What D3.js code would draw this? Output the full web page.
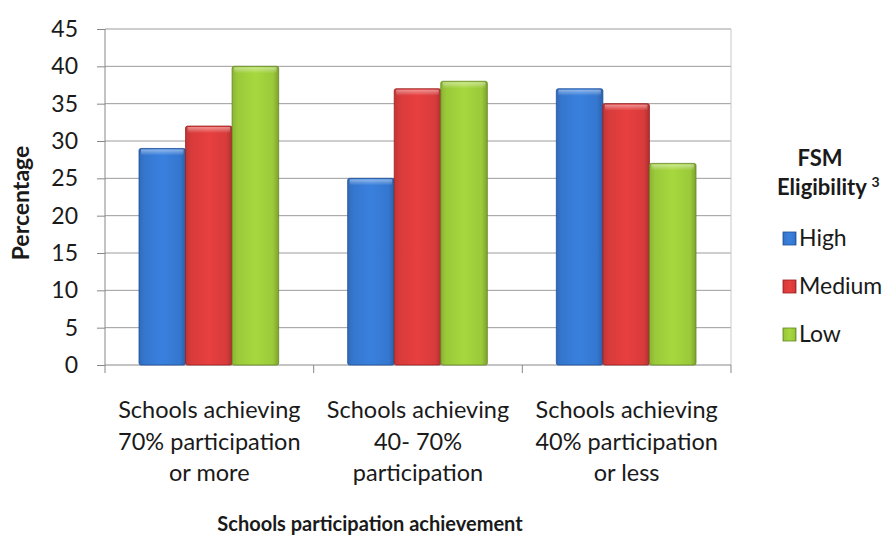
<!DOCTYPE html>
<html><head><meta charset="utf-8">
<script src="https://cdn.jsdelivr.net/npm/d3@7"></script>
<style>body{margin:0;background:#fff}svg{display:block}text{font-family:Lato,"Open Sans",sans-serif;fill:#1a1a1a}</style>
</head><body><svg id="c" width="894" height="536"></svg>
<script>
const categories = [
  ["Schools achieving","70% participation","or more"],
  ["Schools achieving","40- 70%","participation"],
  ["Schools achieving","40% participation","or less"]
];
const seriesNames = ["High","Medium","Low"];
const high = [29, 25, 37];
const medium = [32, 37, 35];
const low = [40, 38, 27];
const yTicks = [0,5,10,15,20,25,30,35,40,45];
const colors = ["#3577cf","#d83b3b","#9bc93a"];
const dark = ["#1f4f99","#9a1f1f","#63861f"];

const svg = d3.select("#c");
const m = {l:105, r:731, t:29, b:365};
const x0 = d3.scaleBand().domain([0,1,2]).range([m.l, m.r]);
const x1 = d3.scaleBand().domain([0,1,2]).range([34, x0.bandwidth()-35]);
const y = d3.scaleLinear().domain([0,45]).range([m.b, m.t]);

const defs = svg.append("defs");
colors.forEach((c,i)=>{
  const g = defs.append("linearGradient").attr("id","g"+i).attr("x1",0).attr("x2",1).attr("y1",0).attr("y2",0);
  g.append("stop").attr("offset","0%").attr("stop-color",d3.color(c).darker(0.3));
  g.append("stop").attr("offset","12%").attr("stop-color",c);
  g.append("stop").attr("offset","50%").attr("stop-color",d3.color(c).brighter(0.2));
  g.append("stop").attr("offset","88%").attr("stop-color",c);
  g.append("stop").attr("offset","100%").attr("stop-color",d3.color(c).darker(0.6));
  const v = defs.append("linearGradient").attr("id","v"+i).attr("x1",0).attr("x2",0).attr("y1",0).attr("y2",1);
  v.append("stop").attr("offset","0%").attr("stop-color","#fff").attr("stop-opacity",0.45);
  v.append("stop").attr("offset","100%").attr("stop-color","#fff").attr("stop-opacity",0);
});

// gridlines
svg.append("g").selectAll("line").data(yTicks.filter(t=>t>0)).join("line")
  .attr("x1",m.l).attr("x2",m.r).attr("y1",d=>y(d)).attr("y2",d=>y(d))
  .attr("stroke","#9c9c9c").attr("stroke-width",1);
svg.append("line").attr("x1",m.r).attr("x2",m.r).attr("y1",m.t).attr("y2",m.b).attr("stroke","#c8c8c8");

// y axis
const ya = svg.append("g").attr("transform",`translate(${m.l},0)`)
  .call(d3.axisLeft(y).tickValues(yTicks).tickSize(8).tickPadding(19).tickSizeOuter(0));
ya.select(".domain").remove();
ya.selectAll(".tick line").attr("stroke","#888");
ya.selectAll("text").attr("font-size",23).attr("fill","#1a1a1a").attr("font-family","Lato");
svg.append("line").attr("x1",m.l).attr("x2",m.l).attr("y1",m.t).attr("y2",m.b+8).attr("stroke","#888");

// x axis
svg.append("line").attr("x1",m.l).attr("x2",m.r).attr("y1",m.b).attr("y2",m.b).attr("stroke","#888");
svg.append("g").selectAll("line").data([1,2,3]).join("line")
  .attr("x1",i=>m.l+i*x0.bandwidth()).attr("x2",i=>m.l+i*x0.bandwidth())
  .attr("y1",m.b).attr("y2",m.b+8).attr("stroke","#888");

// bars
const data = [high, medium, low];
data.forEach((vals,s)=>{
  const g = svg.append("g");
  g.selectAll("rect.b").data(vals).join("rect").attr("class","b")
    .attr("x",(d,i)=>x0(i)+x1(s)).attr("width",x1.bandwidth())
    .attr("y",d=>y(d)).attr("height",d=>y(0)-y(d))
    .attr("fill",`url(#g${s})`).attr("stroke",dark[s]).attr("stroke-width",0.8).attr("rx",2);
  g.selectAll("rect.h").data(vals).join("rect").attr("class","h")
    .attr("x",(d,i)=>x0(i)+x1(s)+2).attr("width",x1.bandwidth()-4)
    .attr("y",d=>y(d)+1).attr("height",6)
    .attr("fill",`url(#v${s})`);
});

// category labels
categories.forEach((lines,i)=>{
  const t = svg.append("text").attr("text-anchor","middle").attr("font-size",23.5);
  lines.forEach((l,j)=>t.append("tspan").attr("x",x0(i)+x0.bandwidth()/2).attr("y",418+j*31.5).text(l));
});

// axis titles
svg.append("text").attr("x",370).attr("y",531).attr("text-anchor","middle")
  .attr("font-size",20).attr("font-weight","bold").text("Schools participation achievement");
svg.append("text").attr("transform","translate(29,203) rotate(-90)").attr("text-anchor","middle")
  .attr("font-size",23).attr("font-weight","bold").text("Percentage");

// legend
svg.append("text").attr("x",820).attr("y",166).attr("text-anchor","middle").attr("font-size",22).attr("font-weight","bold").text("FSM");
const el = svg.append("text").attr("x",777).attr("y",195).attr("font-size",22).attr("font-weight","bold");
el.append("tspan").text("Eligibility ");
el.append("tspan").attr("font-size",14).attr("dy",-8).text("3");
seriesNames.forEach((n,i)=>{
  const yy = 246+i*48;
  svg.append("rect").attr("x",783).attr("y",yy-14).attr("width",13).attr("height",13)
    .attr("fill",`url(#g${i})`).attr("stroke",dark[i]).attr("stroke-width",0.8);
  svg.append("text").attr("x",799).attr("y",yy).attr("font-size",23).text(n);
});
</script></body></html>
